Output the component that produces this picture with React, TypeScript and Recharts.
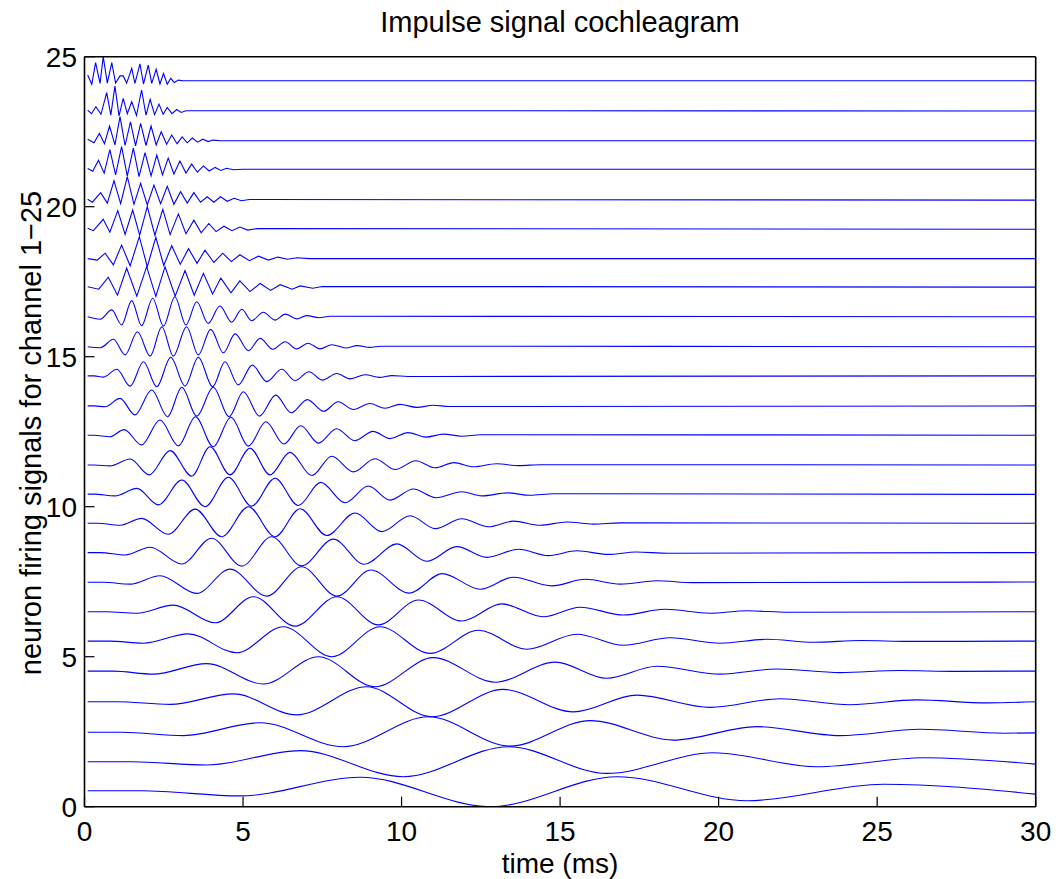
import React from 'react';
import { LineChart, Line, XAxis, YAxis } from 'recharts';

// [time ms, plotted value] turning points, channel 1 (bottom) .. 25 (top)
const CH1 = [[0.1, 0.53], [1.8, 0.53], [4.9, 0.36], [8.7, 0.98], [12.8, 0.0], [16.8, 1.0], [20.9, 0.2], [25.2, 0.75], [30, 0.42]];
const CH2 = [[0.1, 1.5], [1.5, 1.5], [3.85, 1.39], [6.8, 1.87], [10.06, 1.0], [13.37, 2.0], [16.47, 1.11], [19.84, 1.8], [23.1, 1.33], [26.46, 1.63], [30, 1.42]];
const CH3 = [[0.1, 2.48], [1.2, 2.48], [3.12, 2.37], [5.54, 2.8], [8.16, 2.0], [10.85, 3.0], [13.42, 2.02], [15.95, 2.87], [18.57, 2.22], [21.2, 2.67], [23.83, 2.37], [26.36, 2.58], [29.0, 2.45], [30, 2.46]];
const CH4 = [[0.1, 3.5], [1.0, 3.5], [2.7, 3.41], [4.7, 3.76], [6.69, 3.06], [8.9, 4.0], [10.95, 3.0], [13.2, 3.91], [15.42, 3.16], [17.42, 3.72], [19.73, 3.31], [21.94, 3.6], [24.15, 3.4], [26.25, 3.56], [28.46, 3.46], [30, 3.5]];
const CH5 = [[0.1, 4.52], [0.9, 4.52], [2.17, 4.42], [3.85, 4.77], [5.64, 4.09], [7.38, 5.0], [9.16, 4.0], [11.0, 4.97], [12.95, 4.15], [14.85, 4.82], [16.47, 4.28], [18.05, 4.68], [20.05, 4.42], [21.84, 4.59], [23.83, 4.47], [25.7, 4.54], [27.5, 4.51], [30, 4.52]];
const CH6 = [[0.1, 5.52], [0.8, 5.52], [1.85, 5.45], [3.27, 5.76], [4.8, 5.13], [6.27, 6.0], [7.8, 5.0], [9.32, 6.0], [10.9, 5.11], [12.42, 5.88], [13.95, 5.25], [15.53, 5.75], [17.0, 5.38], [18.47, 5.63], [20.05, 5.45], [21.52, 5.58], [23.0, 5.48], [24.5, 5.54], [26, 5.51], [30, 5.52]];
const CH7 = [[0.1, 6.5], [0.7, 6.5], [1.65, 6.45], [2.8, 6.72], [4.12, 6.13], [5.33, 7.0], [6.64, 6.02], [7.96, 7.0], [9.27, 6.06], [10.53, 6.89], [11.9, 6.19], [13.16, 6.76], [14.47, 6.33], [15.63, 6.65], [17.0, 6.39], [18.3, 6.58], [19.73, 6.45], [20.9, 6.53], [22.2, 6.48], [30, 6.5]];
const CH8 = [[0.1, 7.48], [0.6, 7.48], [1.44, 7.42], [2.38, 7.7], [3.54, 7.11], [4.59, 7.92], [5.75, 7.02], [6.85, 8.0], [7.96, 7.02], [9.03, 7.89], [10.24, 7.12], [11.28, 7.77], [12.48, 7.25], [13.53, 7.65], [14.74, 7.36], [15.79, 7.58], [16.9, 7.42], [18.05, 7.53], [19.2, 7.47], [30, 7.49]];
const CH9 = [[0.1, 8.47], [0.5, 8.47], [1.28, 8.39], [2.07, 8.65], [3.07, 8.09], [4.01, 8.95], [4.96, 8.02], [5.9, 9.0], [6.85, 8.03], [7.85, 8.92], [8.82, 8.08], [9.85, 8.76], [10.8, 8.18], [11.74, 8.67], [12.69, 8.31], [13.69, 8.58], [14.63, 8.37], [15.53, 8.53], [16.52, 8.41], [17.4, 8.49], [18.4, 8.45], [30, 8.47]];
const CH10 = [[0.1, 9.45], [0.4, 9.45], [1.12, 9.38], [1.8, 9.61], [2.64, 9.08], [3.49, 9.92], [4.33, 9.0], [5.17, 10.0], [6.01, 9.0], [6.8, 9.93], [7.64, 9.04], [8.53, 9.79], [9.38, 9.17], [10.27, 9.7], [11.06, 9.27], [11.9, 9.6], [12.74, 9.33], [13.53, 9.52], [14.37, 9.38], [15.21, 9.49], [16.05, 9.42], [16.9, 9.46], [30, 9.45]];
const CH11 = [[0.1, 10.42], [0.3, 10.42], [0.96, 10.36], [1.65, 10.61], [2.33, 10.06], [3.07, 10.89], [3.8, 10.0], [4.54, 10.98], [5.27, 10.02], [6.01, 10.95], [6.74, 10.04], [7.45, 10.81], [8.22, 10.13], [8.95, 10.69], [9.64, 10.22], [10.37, 10.59], [11.08, 10.3], [11.9, 10.5], [12.53, 10.36], [13.35, 10.46], [14.05, 10.38], [14.8, 10.43], [30, 10.41]];
const CH12 = [[0.1, 11.39], [0.3, 11.39], [0.8, 11.36], [1.44, 11.59], [2.04, 11.06], [2.7, 11.87], [3.38, 11.02], [3.96, 12.0], [4.59, 11.06], [5.22, 11.95], [5.85, 11.06], [6.48, 11.81], [7.17, 11.04], [7.8, 11.68], [8.48, 11.16], [9.16, 11.6], [9.8, 11.24], [10.45, 11.53], [11.05, 11.3], [11.65, 11.47], [12.27, 11.33], [13.0, 11.43], [13.7, 11.37], [14.4, 11.4], [30, 11.39]];
const CH13 = [[0.1, 12.38], [0.3, 12.38], [0.8, 12.33], [1.25, 12.57], [1.8, 12.06], [2.38, 12.89], [2.96, 12.03], [3.5, 13.0], [4.06, 12.0], [4.62, 12.98], [5.17, 12.02], [5.72, 12.83], [6.29, 12.09], [6.82, 12.7], [7.38, 12.12], [7.95, 12.6], [8.52, 12.2], [9.1, 12.51], [9.64, 12.27], [10.2, 12.47], [10.77, 12.32], [11.32, 12.42], [11.9, 12.35], [12.5, 12.4], [30, 12.38]];
const CH14 = [[0.1, 13.36], [0.3, 13.36], [0.65, 13.33], [1.12, 13.61], [1.59, 13.06], [2.12, 13.89], [2.62, 13.0], [3.07, 13.98], [3.54, 13.02], [4.06, 13.98], [4.56, 13.0], [5.01, 13.83], [5.52, 13.02], [6.03, 13.72], [6.52, 13.13], [7.03, 13.57], [7.54, 13.18], [8.0, 13.5], [8.48, 13.24], [9.0, 13.44], [9.48, 13.28], [9.95, 13.41], [10.48, 13.31], [11.0, 13.38], [11.5, 13.34], [30, 13.36]];
const CH15 = [[0.1, 14.36], [0.3, 14.36], [0.6, 14.32], [1.02, 14.58], [1.44, 14.02], [1.86, 14.83], [2.28, 14.0], [2.72, 14.98], [3.17, 14.02], [3.59, 14.98], [4.04, 14.0], [4.43, 14.83], [4.85, 14.06], [5.29, 14.72], [5.75, 14.17], [6.22, 14.58], [6.64, 14.2], [7.08, 14.5], [7.5, 14.22], [7.96, 14.44], [8.38, 14.26], [8.85, 14.4], [9.3, 14.31], [9.7, 14.37], [10.2, 14.34], [30, 14.36]];
const CH16 = [[0.1, 15.33], [0.5, 15.3], [0.91, 15.58], [1.28, 15.06], [1.67, 15.83], [2.07, 15.02], [2.44, 16.0], [2.8, 15.02], [3.22, 16.0], [3.59, 15.06], [3.98, 15.91], [4.38, 15.13], [4.75, 15.76], [5.17, 15.2], [5.54, 15.61], [5.94, 15.25], [6.33, 15.5], [6.69, 15.26], [7.05, 15.45], [7.43, 15.26], [7.8, 15.4], [8.25, 15.29], [8.6, 15.37], [9.0, 15.31], [9.35, 15.35], [30, 15.33]];
const CH17 = [[0.1, 16.33], [0.49, 16.25], [0.86, 16.56], [1.17, 16.06], [1.49, 16.87], [1.8, 16.03], [2.15, 16.95], [2.49, 16.02], [2.85, 17.0], [3.2, 16.06], [3.54, 16.83], [3.9, 16.11], [4.27, 16.69], [4.64, 16.15], [4.96, 16.58], [5.27, 16.2], [5.64, 16.48], [6.01, 16.22], [6.33, 16.42], [6.7, 16.26], [7.0, 16.37], [7.4, 16.3], [7.75, 16.35], [30, 16.33]];
const CH18 = [[0.1, 17.33], [0.45, 17.25], [0.75, 17.65], [1.04, 17.05], [1.33, 17.95], [1.65, 17.02], [1.96, 18.0], [2.25, 17.01], [2.54, 18.0], [2.86, 17.02], [3.17, 17.87], [3.46, 17.05], [3.75, 17.78], [4.04, 17.09], [4.3, 17.62], [4.62, 17.13], [4.9, 17.53], [5.22, 17.17], [5.54, 17.44], [5.87, 17.21], [6.17, 17.4], [6.55, 17.25], [6.8, 17.36], [7.2, 17.28], [7.5, 17.34], [30, 17.32]];
const CH19 = [[0.1, 18.27], [0.4, 18.22], [0.65, 18.45], [0.91, 18.06], [1.17, 18.72], [1.44, 18.03], [1.73, 19.0], [1.98, 18.0], [2.25, 18.98], [2.5, 18.04], [2.75, 18.7], [3.02, 18.08], [3.28, 18.6], [3.55, 18.11], [3.8, 18.55], [4.08, 18.14], [4.36, 18.45], [4.63, 18.17], [4.9, 18.4], [5.2, 18.2], [5.49, 18.35], [5.8, 18.22], [6.1, 18.32], [6.4, 18.25], [6.7, 18.3], [7.1, 18.27], [30, 18.27]];
const CH20 = [[0.1, 19.28], [0.28, 19.2], [0.59, 19.58], [0.8, 19.15], [1.05, 19.87], [1.28, 19.08], [1.52, 19.89], [1.74, 19.05], [1.98, 20.0], [2.22, 19.05], [2.47, 19.91], [2.7, 19.07], [2.96, 19.76], [3.2, 19.1], [3.45, 19.55], [3.68, 19.13], [3.92, 19.44], [4.15, 19.17], [4.4, 19.35], [4.65, 19.2], [4.9, 19.32], [5.15, 19.22], [5.45, 19.27], [30, 19.25]];
const CH21 = [[0.1, 20.25], [0.25, 20.15], [0.51, 20.47], [0.72, 20.12], [0.93, 20.87], [1.14, 20.1], [1.35, 21.0], [1.56, 20.08], [1.77, 20.78], [1.98, 20.06], [2.19, 20.72], [2.4, 20.1], [2.61, 20.68], [2.82, 20.08], [3.03, 20.5], [3.24, 20.12], [3.45, 20.47], [3.66, 20.15], [3.87, 20.33], [4.08, 20.15], [4.29, 20.33], [4.5, 20.18], [4.72, 20.28], [4.95, 20.2], [5.2, 20.24], [30, 20.22]];
const CH22 = [[0.1, 21.27], [0.26, 21.18], [0.44, 21.55], [0.62, 21.12], [0.8, 21.9], [0.98, 21.06], [1.17, 22.0], [1.35, 21.02], [1.54, 21.95], [1.72, 21.0], [1.91, 21.8], [2.1, 21.03], [2.28, 21.72], [2.46, 21.06], [2.64, 21.62], [2.82, 21.09], [3.01, 21.52], [3.2, 21.12], [3.38, 21.42], [3.56, 21.15], [3.75, 21.36], [3.93, 21.19], [4.12, 21.31], [4.3, 21.21], [4.48, 21.28], [4.7, 21.23], [5.0, 21.25], [30, 21.25]];
const CH23 = [[0.1, 22.25], [0.3, 22.13], [0.47, 22.44], [0.63, 22.1], [0.79, 22.69], [0.96, 22.06], [1.12, 23.0], [1.28, 22.04], [1.45, 22.83], [1.61, 22.03], [1.77, 22.78], [1.94, 22.04], [2.1, 22.69], [2.26, 22.06], [2.42, 22.5], [2.59, 22.08], [2.75, 22.39], [2.92, 22.1], [3.08, 22.33], [3.24, 22.13], [3.4, 22.29], [3.57, 22.15], [3.73, 22.25], [3.9, 22.17], [4.05, 22.22], [4.3, 22.2], [30, 22.2]];
const CH24 = [[0.1, 23.22], [0.22, 23.1], [0.36, 23.33], [0.52, 23.08], [0.7, 23.8], [0.83, 23.05], [0.96, 24.02], [1.09, 23.03], [1.22, 23.61], [1.35, 23.1], [1.49, 23.5], [1.64, 23.04], [1.8, 23.89], [1.94, 23.05], [2.07, 23.58], [2.21, 23.07], [2.35, 23.42], [2.48, 23.08], [2.61, 23.31], [2.76, 23.1], [2.91, 23.24], [3.05, 23.14], [3.2, 23.2], [30, 23.19]];
const CH25 = [[0.1, 24.39], [0.23, 24.08], [0.35, 24.8], [0.49, 24.11], [0.59, 25.0], [0.72, 24.12], [0.86, 24.8], [0.98, 24.12], [1.12, 24.36], [1.22, 24.36], [1.33, 24.12], [1.49, 24.61], [1.59, 24.11], [1.75, 24.76], [1.86, 24.09], [2.01, 24.72], [2.12, 24.11], [2.26, 24.58], [2.38, 24.09], [2.49, 24.44], [2.61, 24.08], [2.72, 24.28], [2.83, 24.14], [2.96, 24.22], [3.1, 24.2], [30, 24.2]];

const CHANNELS = [CH1, CH2, CH3, CH4, CH5, CH6, CH7, CH8, CH9, CH10, CH11, CH12, CH13, CH14, CH15, CH16, CH17, CH18, CH19, CH20, CH21, CH22, CH23, CH24, CH25];

const X_TICKS = [0, 5, 10, 15, 20, 25, 30];
const Y_TICKS = [0, 5, 10, 15, 20, 25];

const FONT = 'Liberation Sans, Arial, Helvetica, sans-serif';
const BLUE = '#0000ff';

const series = CHANNELS.map((pts) => pts.map(([t, v]) => ({ t, v })));

export default function App() {
  const tickStyle = { fontFamily: FONT, fontSize: 28, fill: '#000' };
  const axisLine = { stroke: '#000', strokeWidth: 1.6 };
  const tickLine = { stroke: '#000', strokeWidth: 1.2 };

  return (
    <div style={{ position: 'absolute', left: 0, top: 0, width: 1060, height: 879, background: '#fff' }}>
      <LineChart width={1060} height={879} margin={{ top: 55.7, right: 23.3, bottom: 22.3, left: 14.5 }}>
        <XAxis
          xAxisId="b"
          dataKey="t"
          type="number"
          domain={[0, 30]}
          ticks={X_TICKS}
          allowDataOverflow
          height={50}
          fontSize={28}
          fontFamily={FONT}
          tick={tickStyle}
          tickSize={-10}
          tickMargin={24.5}
          axisLine={axisLine}
          tickLine={tickLine}
        />
        <XAxis
          xAxisId="t"
          orientation="top"
          type="number"
          domain={[0, 30]}
          ticks={X_TICKS}
          height={1}
          tick={false}
          tickSize={-10}
          axisLine={axisLine}
          tickLine={tickLine}
        />
        <YAxis
          yAxisId="l"
          type="number"
          domain={[0, 25]}
          ticks={Y_TICKS}
          allowDataOverflow
          width={70}
          fontSize={28}
          fontFamily={FONT}
          tick={tickStyle}
          tickSize={-10}
          tickMargin={17.5}
          axisLine={axisLine}
          tickLine={tickLine}
        />
        <YAxis
          yAxisId="r"
          orientation="right"
          type="number"
          domain={[0, 25]}
          ticks={Y_TICKS}
          width={1}
          tick={false}
          tickSize={-10}
          axisLine={axisLine}
          tickLine={tickLine}
        />
        {series.map((d, i) => (
          <Line
            key={i}
            data={d}
            dataKey="v"
            xAxisId="b"
            yAxisId="l"
            type={i >= 17 ? 'linear' : 'monotone'}
            stroke={BLUE}
            strokeWidth={1.1}
            dot={false}
            activeDot={false}
            isAnimationActive={false}
          />
        ))}
      </LineChart>
      <svg
        width={1060}
        height={879}
        style={{ position: 'absolute', left: 0, top: 0, pointerEvents: 'none' }}
      >
        <text x={560} y={32} textAnchor="middle" fontFamily={FONT} fontSize={29} fill="#000">
          Impulse signal cochleagram
        </text>
        <text x={560} y={873} textAnchor="middle" fontFamily={FONT} fontSize={28} fill="#000">
          time (ms)
        </text>
        <text
          transform="translate(41,433) rotate(-90)"
          textAnchor="middle"
          fontFamily={FONT}
          fontSize={29}
          fill="#000"
        >
          neuron firing signals for channel 1−25
        </text>
      </svg>
    </div>
  );
}
